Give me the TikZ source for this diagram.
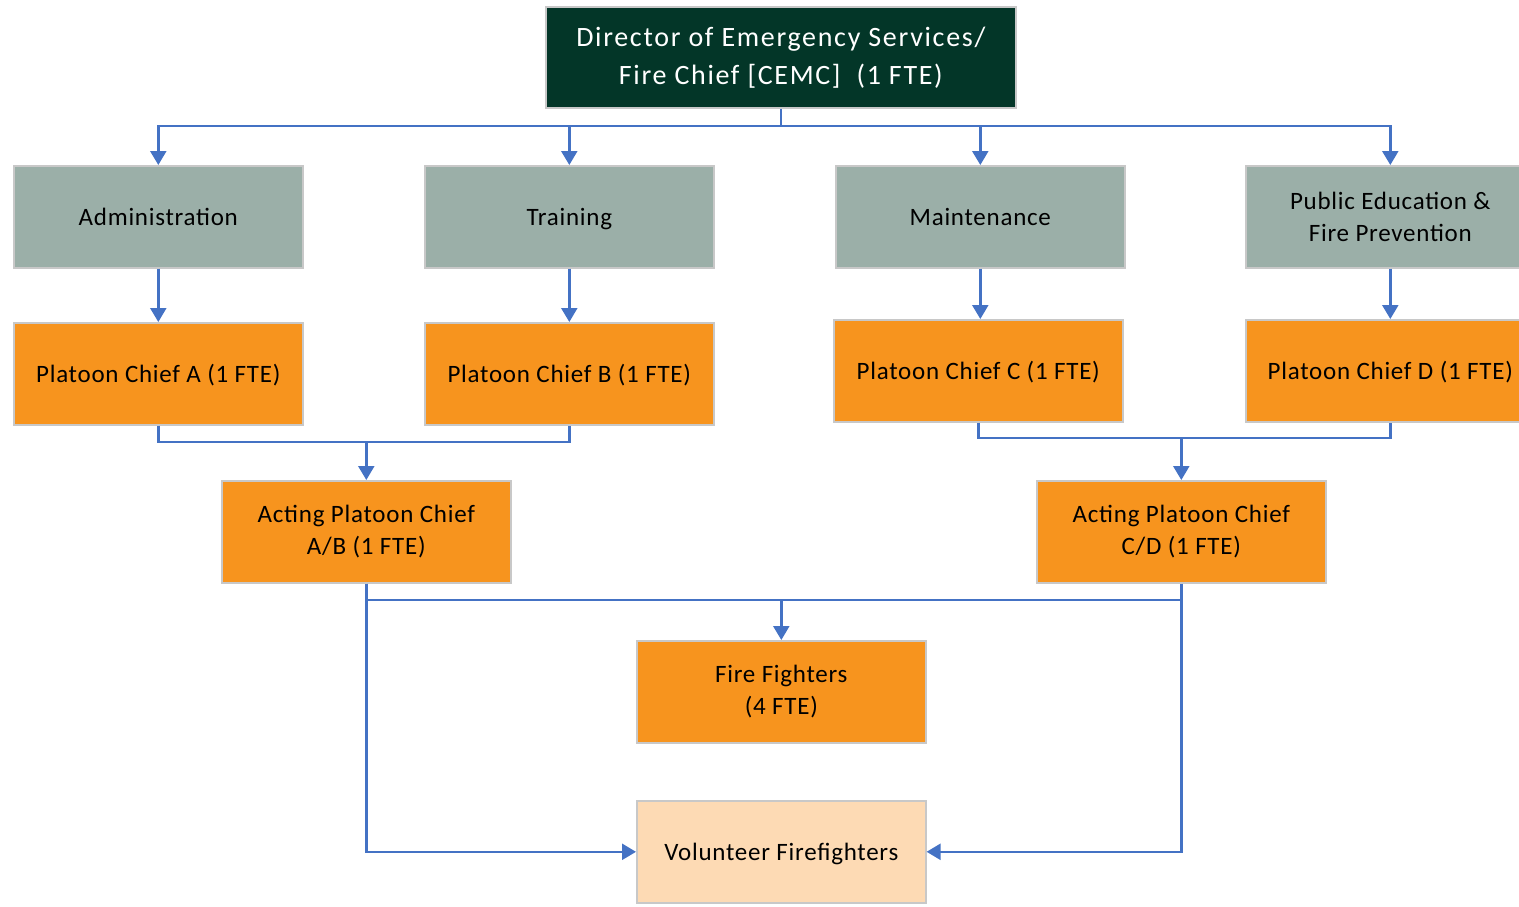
\documentclass[tikz,border=0pt]{standalone}
\usepackage{fontspec}
\setmainfont{Carlito}
\newfontfamily\boxfont[LetterSpace=3]{Carlito}
\newfontfamily\dirfont[LetterSpace=6]{Carlito}
\usetikzlibrary{arrows.meta}
\definecolor{dirgreen}{HTML}{033628}
\definecolor{deptgray}{HTML}{9BAFA8}
\definecolor{chieforange}{HTML}{F7941E}
\definecolor{volpeach}{HTML}{FDDAB4}
\definecolor{boxline}{HTML}{C8C8C8}
\definecolor{connblue}{HTML}{4472C4}
\tikzset{
  base/.style={rectangle, draw=boxline, line width=1.6pt, inner sep=0pt, anchor=north west,
    minimum width=289pt, minimum height=102pt, align=center, text=black,
    font=\boxfont\fontsize{25}{32}\selectfont},
  one/.style={text height=20pt, text depth=2pt},
  dirbox/.style={base, fill=dirgreen, text=white, minimum width=470pt, minimum height=101pt,
    font=\dirfont\fontsize{28}{38}\selectfont},
  deptbox/.style={base, fill=deptgray},
  chiefbox/.style={base, fill=chieforange},
  volbox/.style={base, fill=volpeach},
  conn/.style={draw=connblue, line width=2.4pt},
  arr/.style={conn, -{Triangle[width=16pt,length=14pt]}},
}
\begin{document}
\begin{tikzpicture}[x=1pt,y=1pt]
\useasboundingbox (0,0) rectangle (1519,-906);
\clip (0,0) rectangle (1519,-906);
\node[dirbox] (dir) at (545,-6) {Director of Emergency Services/\\Fire Chief [CEMC]\ \ (1 FTE)};
\node[deptbox,one] (adm) at (13,-165) {Administration};
\node[deptbox,one] (trn) at (424,-165) {Training};
\node[deptbox,one] (mnt) at (835,-165) {Maintenance};
\node[deptbox] (pub) at (1245,-165) {Public Education \&\\Fire Prevention};
\node[chiefbox,one] (pa) at (13,-322) {Platoon Chief A (1 FTE)};
\node[chiefbox,one] (pb) at (424,-322) {Platoon Chief B (1 FTE)};
\node[chiefbox,one] (pc) at (833,-319) {Platoon Chief C (1 FTE)};
\node[chiefbox,one] (pd) at (1245,-319) {Platoon Chief D (1 FTE)};
\node[chiefbox] (aab) at (221,-480) {Acting Platoon Chief\\A/B (1 FTE)};
\node[chiefbox] (acd) at (1036,-480) {Acting Platoon Chief\\C/D (1 FTE)};
\node[chiefbox] (ff) at (636,-640) {Fire Fighters\\(4 FTE)};
\node[volbox,one] (vol) at (636,-800) {Volunteer Firefighters};
% top bus
\coordinate (bus1) at (dir.south |- 0,-126);
\draw[conn] (dir.south) -- (bus1);
\draw[arr] (bus1) -| (adm.north);
\draw[arr] (bus1) -| (trn.north);
\draw[arr] (bus1) -| (mnt.north);
\draw[arr] (bus1) -| (pub.north);
% dept to chiefs
\draw[arr] (adm.south) -- (pa.north);
\draw[arr] (trn.south) -- (pb.north);
\draw[arr] (mnt.south) -- (mnt.south |- pc.north);
\draw[arr] (pub.south) -- (pd.north);
% chiefs to acting
\coordinate (j1) at (0,-442);
\draw[conn] (pa.south) -- (pa.south |- j1) -- (pb.south |- j1) -- (pb.south);
\draw[arr] (aab.north |- j1) -- (aab.north);
\coordinate (j2) at (0,-438);
\draw[conn] (pc.south) -- (pc.south |- j2) -- (pd.south |- j2) -- (pd.south);
\draw[arr] (acd.north |- j2) -- (acd.north);
% acting to fire fighters
\coordinate (j3) at (0,-600);
\draw[conn] (aab.south) -- (aab.south |- j3) -- (acd.south |- j3) -- (acd.south);
\draw[arr] (ff.north |- j3) -- (ff.north);
% acting to volunteers
\draw[arr] (aab.south) |- (vol.west);
\draw[arr] (acd.south) |- (vol.east);
\end{tikzpicture}
\end{document}
